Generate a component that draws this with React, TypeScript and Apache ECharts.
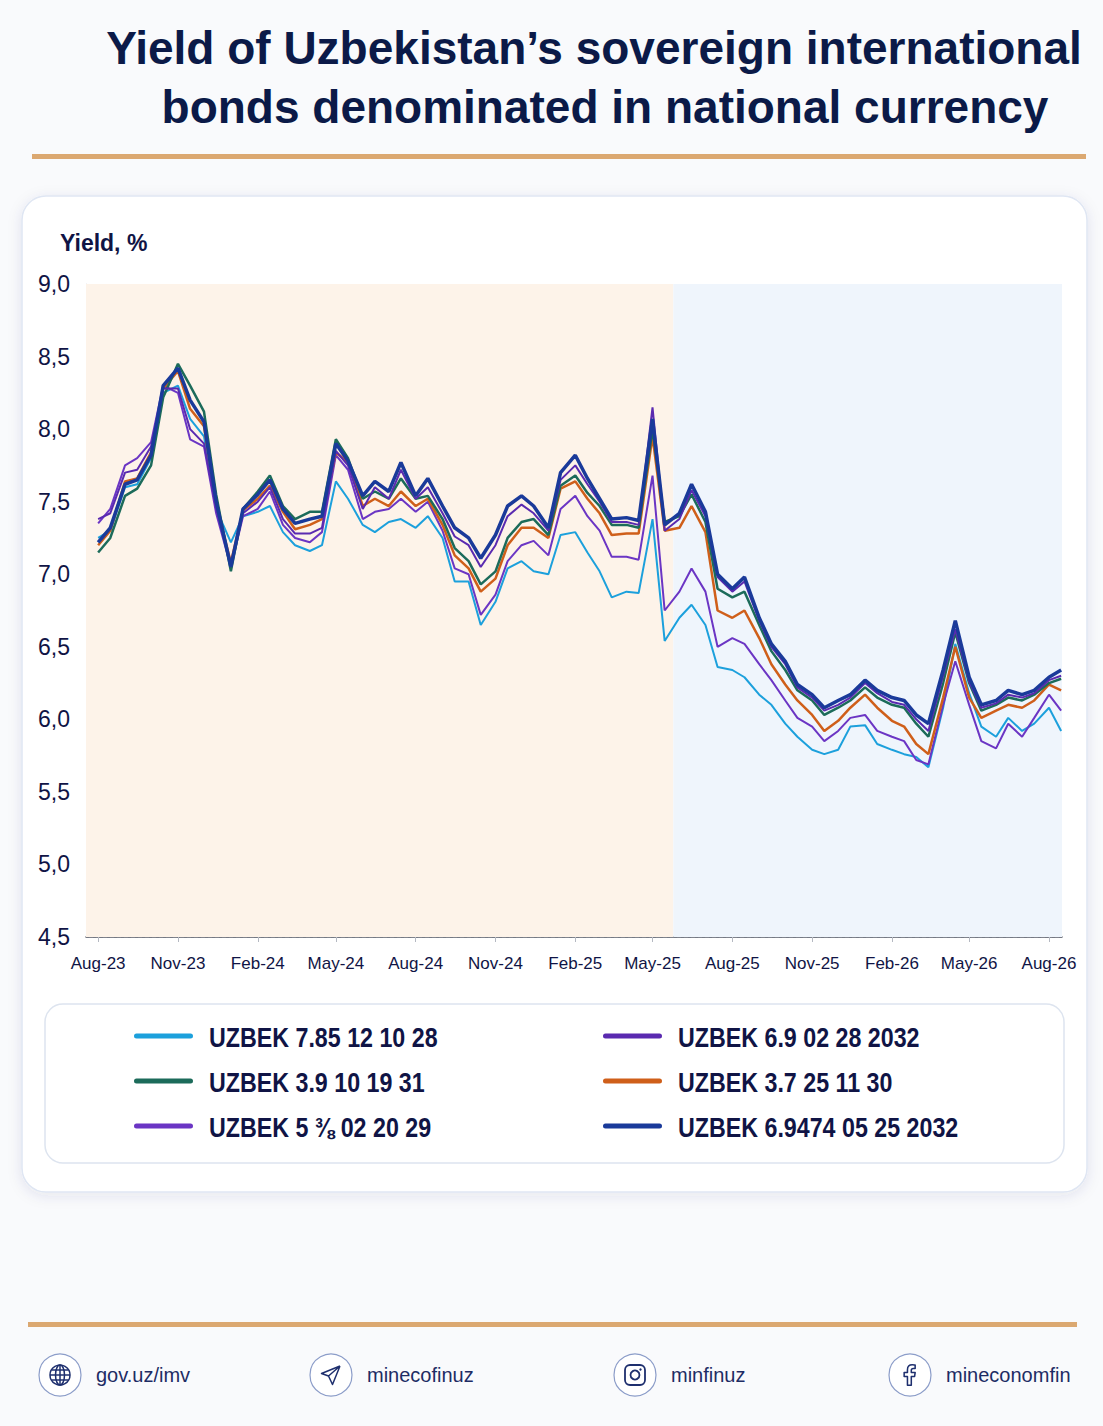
import React, { useEffect, useRef } from 'react';
import * as echarts from 'echarts';

// semi-monthly observations, Aug-23 .. Aug-26 (1st and 15th of each month)
const months = [
  '2023-08', '2023-09', '2023-10', '2023-11', '2023-12',
  '2024-01', '2024-02', '2024-03', '2024-04', '2024-05', '2024-06', '2024-07', '2024-08', '2024-09', '2024-10', '2024-11', '2024-12',
  '2025-01', '2025-02', '2025-03', '2025-04', '2025-05', '2025-06', '2025-07', '2025-08', '2025-09', '2025-10', '2025-11', '2025-12',
  '2026-01', '2026-02', '2026-03', '2026-04', '2026-05', '2026-06', '2026-07', '2026-08',
];
const dates = months.flatMap((m) => [`${m}-01`, `${m}-15`]);

const tickDates = [
  '2023-08-01', '2023-11-01', '2024-02-01', '2024-05-01', '2024-08-01', '2024-11-01', '2025-02-01',
  '2025-05-01', '2025-08-01', '2025-11-01', '2026-02-01', '2026-05-01', '2026-08-01',
];
const tickLabels = [
  'Aug-23', 'Nov-23', 'Feb-24', 'May-24', 'Aug-24', 'Nov-24', 'Feb-25',
  'May-25', 'Aug-25', 'Nov-25', 'Feb-26', 'May-26', 'Aug-26',
];

const uz785_28 = [
  7.25, 7.3, 7.6, 7.62, 7.8, 8.25, 8.3, 8.07, 7.95, 7.45,
  7.22, 7.4, 7.43, 7.47, 7.29, 7.2, 7.16, 7.2, 7.64, 7.52,
  7.34, 7.29, 7.36, 7.38, 7.32, 7.4, 7.25, 6.95, 6.95, 6.65,
  6.81, 7.04, 7.09, 7.02, 7.0, 7.27, 7.29, 7.15, 7.02, 6.84,
  6.88, 6.87, 7.38, 6.54, 6.7, 6.79, 6.65, 6.36, 6.34, 6.29,
  6.17, 6.1, 5.97, 5.88, 5.79, 5.76, 5.79, 5.95, 5.96, 5.83,
  5.79, 5.76, 5.74, 5.67, 6.08, 6.52, 6.18, 5.95, 5.88, 6.01,
  5.92, 5.97, 6.08, 5.92,
];
const uz39_31 = [
  7.15, 7.25, 7.54, 7.59, 7.75, 8.22, 8.45, 8.3, 8.12, 7.55,
  7.02, 7.45, 7.57, 7.68, 7.47, 7.38, 7.43, 7.43, 7.93, 7.8,
  7.52, 7.57, 7.52, 7.66, 7.52, 7.54, 7.38, 7.18, 7.09, 6.93,
  7.02, 7.25, 7.36, 7.38, 7.27, 7.61, 7.68, 7.56, 7.47, 7.34,
  7.34, 7.32, 8.0, 7.36, 7.4, 7.55, 7.36, 6.9, 6.84, 6.88,
  6.65, 6.47, 6.34, 6.2, 6.13, 6.03, 6.08, 6.13, 6.22, 6.15,
  6.1, 6.08, 5.97, 5.88, 6.25, 6.6, 6.25, 6.06, 6.1, 6.15,
  6.13, 6.17, 6.25, 6.28,
];
const uz538_29 = [
  7.35, 7.45, 7.75, 7.8, 7.91, 8.3, 8.25, 7.93, 7.88, 7.42,
  7.05, 7.4, 7.45, 7.57, 7.34, 7.25, 7.22, 7.29, 7.82, 7.72,
  7.38, 7.43, 7.45, 7.52, 7.43, 7.5, 7.3, 7.04, 7.0, 6.72,
  6.86, 7.09, 7.2, 7.23, 7.13, 7.45, 7.54, 7.4, 7.3, 7.12,
  7.12, 7.1, 7.68, 6.75, 6.88, 7.04, 6.88, 6.5, 6.56, 6.52,
  6.38, 6.27, 6.13, 6.01, 5.95, 5.85, 5.92, 6.01, 6.03, 5.92,
  5.88, 5.85, 5.72, 5.69, 6.1, 6.4, 6.1, 5.85, 5.8, 5.97,
  5.88, 6.01, 6.17, 6.06,
];
const uz69_32 = [
  7.38, 7.42, 7.7, 7.72, 7.88, 8.28, 8.28, 8.0, 7.9, 7.45,
  7.07, 7.42, 7.5, 7.6, 7.38, 7.28, 7.28, 7.32, 7.85, 7.75,
  7.45, 7.6, 7.52, 7.72, 7.52, 7.6, 7.42, 7.26, 7.2, 7.05,
  7.2, 7.4, 7.48, 7.42, 7.3, 7.65, 7.75, 7.62, 7.5, 7.36,
  7.36, 7.34, 8.15, 7.3, 7.38, 7.58, 7.4, 6.98, 6.88, 6.95,
  6.68, 6.5, 6.38, 6.22, 6.15, 6.06, 6.1, 6.15, 6.25, 6.18,
  6.12, 6.1, 6.0, 5.92, 6.3, 6.62, 6.26, 6.08, 6.11, 6.17,
  6.15, 6.18, 6.27, 6.3,
];
const uz37_30 = [
  7.2, 7.3, 7.64, 7.66, 7.84, 8.28, 8.4, 8.14, 8.02, 7.48,
  7.08, 7.44, 7.52, 7.61, 7.43, 7.31, 7.34, 7.38, 7.84, 7.77,
  7.47, 7.52, 7.47, 7.57, 7.47, 7.52, 7.34, 7.13, 7.04, 6.88,
  6.97, 7.2, 7.32, 7.32, 7.25, 7.59, 7.64, 7.52, 7.42, 7.27,
  7.28, 7.28, 7.95, 7.3, 7.32, 7.47, 7.29, 6.75, 6.7, 6.75,
  6.56, 6.38, 6.24, 6.13, 6.03, 5.92, 5.99, 6.08, 6.17, 6.08,
  5.99, 5.95, 5.83, 5.76, 6.15, 6.5, 6.15, 6.01, 6.06, 6.1,
  6.08, 6.13, 6.24, 6.2,
];
const uz69474_32 = [
  7.22, 7.32, 7.62, 7.65, 7.82, 8.3, 8.42, 8.2, 8.05, 7.5,
  7.05, 7.45, 7.55, 7.65, 7.45, 7.35, 7.38, 7.4, 7.9, 7.78,
  7.54, 7.64, 7.57, 7.77, 7.54, 7.66, 7.47, 7.32, 7.25, 7.11,
  7.27, 7.47, 7.54, 7.47, 7.32, 7.7, 7.82, 7.66, 7.52, 7.38,
  7.39, 7.37, 8.07, 7.34, 7.42, 7.62, 7.43, 7.0, 6.9, 6.98,
  6.7, 6.52, 6.4, 6.24, 6.17, 6.08, 6.13, 6.17, 6.27, 6.2,
  6.15, 6.13, 6.03, 5.97, 6.34, 6.68, 6.29, 6.1, 6.13, 6.2,
  6.17, 6.2, 6.29, 6.34,
];

const NAVY = '#101445';
const GOLD = '#dba871';

// day number (UTC) of a 'yyyy-MM-dd' string, used as the x value
const day = (s: string) => {
  const [y, m, d] = s.split('-').map(Number);
  return Date.UTC(y, m - 1, d) / 86400000;
};

const facebookPath =
  'M13 22v-8h3l.5-3.5H13V8.5c0-1 .3-1.7 1.8-1.7h1.7V3.7c-.3 0-1.4-.2-2.6-.2-2.6 0-4.4 1.6-4.4 4.5v2.5H6.5V14h3v8z';
const planePath = 'M21 3L2.5 10.5l7 2.5M21 3l-7.5 18.5-4-8.5M21 3L9.5 13';
echarts.graphic.registerShape('fbIcon', echarts.graphic.extendPath(facebookPath, {}));
echarts.graphic.registerShape('planeIcon', echarts.graphic.extendPath(planePath, {}));

export default function App() {
  const chartRef = useRef<HTMLDivElement>(null);

  useEffect(() => {
    if (!chartRef.current) return;
    document.body.style.margin = '0';
    const chart = echarts.init(chartRef.current, null, { renderer: 'svg' });

    // drawing order (navy on top)
    const seriesDefs = [
      { name: 'UZBEK 7.85 12 10 28', data: uz785_28, color: '#1ca0dc', width: 2 },
      { name: 'UZBEK 5 ⅜ 02 20 29', data: uz538_29, color: '#6b35c4', width: 2 },
      { name: 'UZBEK 3.7 25 11 30', data: uz37_30, color: '#cf5f1a', width: 2.5 },
      { name: 'UZBEK 3.9 10 19 31', data: uz39_31, color: '#1c6b5a', width: 2.5 },
      { name: 'UZBEK 6.9 02 28 2032', data: uz69_32, color: '#5a2ab0', width: 2 },
      { name: 'UZBEK 6.9474 05 25 2032', data: uz69474_32, color: '#1a3a9a', width: 3.5 },
    ];
    const colorOf = (n: string) => seriesDefs.find((s) => s.name === n)!.color;

    // legend layout: two columns of three
    const legendCols = [
      { x: 134, names: ['UZBEK 7.85 12 10 28', 'UZBEK 3.9 10 19 31', 'UZBEK 5 ⅜ 02 20 29'] },
      { x: 603, names: ['UZBEK 6.9 02 28 2032', 'UZBEK 3.7 25 11 30', 'UZBEK 6.9474 05 25 2032'] },
    ];

    const tickDays = tickDates.map(day);
    const xMin = day('2023-07-18');
    const xMax = day('2026-08-16');
    const split = day('2025-05-25');

    const iconColor = '#1e2f6e';
    const footerItems = [
      { cx: 60, text: 'gov.uz/imv' },
      { cx: 331, text: 'minecofinuz' },
      { cx: 635, text: 'minfinuz' },
      { cx: 910, text: 'mineconomfin' },
    ];

    const graphics: any[] = [
      { type: 'rect', z: -20, shape: { x: 0, y: 0, width: 1103, height: 1426 }, style: { fill: '#f9fafc' } },
      {
        type: 'text', x: 594, y: 48,
        style: { text: 'Yield of Uzbekistan’s sovereign international', fill: '#0b1a48', fontSize: 46, fontWeight: 'bold', fontFamily: 'Liberation Sans', align: 'center', verticalAlign: 'middle' },
      },
      {
        type: 'text', x: 605, y: 107,
        style: { text: 'bonds denominated in national currency', fill: '#0b1a48', fontSize: 46, fontWeight: 'bold', fontFamily: 'Liberation Sans', align: 'center', verticalAlign: 'middle' },
      },
      { type: 'rect', shape: { x: 32, y: 154, width: 1054, height: 5 }, style: { fill: GOLD } },
      {
        type: 'rect', z: -10,
        shape: { x: 22, y: 196, width: 1065, height: 996, r: 24 },
        style: { fill: '#ffffff', stroke: '#dfe6f3', lineWidth: 1.5, shadowBlur: 14, shadowColor: 'rgba(40,60,110,0.10)', shadowOffsetY: 3 },
      },
      {
        type: 'text', x: 60, y: 243,
        style: { text: 'Yield, %', fill: NAVY, fontSize: 23, fontWeight: 'bold', fontFamily: 'Liberation Sans', verticalAlign: 'middle' },
      },
      {
        type: 'rect', z: -5,
        shape: { x: 45, y: 1004, width: 1019, height: 159, r: 18 },
        style: { fill: '#ffffff', stroke: '#dde4ef', lineWidth: 1.5 },
      },
      { type: 'rect', shape: { x: 28, y: 1322, width: 1049, height: 5 }, style: { fill: GOLD } },
    ];

    legendCols.forEach((col) => {
      col.names.forEach((name, row) => {
        const cy = 1036 + row * 45;
        graphics.push({
          type: 'rect', shape: { x: col.x, y: cy - 2.5, width: 59, height: 5, r: 2.5 },
          style: { fill: colorOf(name) },
        });
        graphics.push({
          type: 'text', x: col.x + 75, y: cy + 1, scaleX: 0.83,
          style: { text: name, fill: NAVY, fontSize: 28, fontWeight: 'bold', fontFamily: 'Liberation Sans', verticalAlign: 'middle' },
        });
      });
    });

    footerItems.forEach(({ cx, text }) => {
      graphics.push({
        type: 'circle', shape: { cx, cy: 1375, r: 21 },
        style: { fill: '#ffffff', stroke: '#8c9dc9', lineWidth: 1.2 },
      });
      graphics.push({
        type: 'text', x: cx + 36, y: 1375,
        style: { text, fill: '#1e2c64', fontSize: 20, fontFamily: 'Liberation Sans', verticalAlign: 'middle' },
      });
    });

    const gx = footerItems[0].cx;
    const gy = 1375;
    const lineStyle = { stroke: iconColor, lineWidth: 1.5, fill: 'none' };
    graphics.push(
      { type: 'circle', shape: { cx: gx, cy: gy, r: 10 }, style: lineStyle },
      { type: 'ellipse', shape: { cx: gx, cy: gy, rx: 4.5, ry: 10 }, style: lineStyle },
      { type: 'line', shape: { x1: gx, y1: gy - 10, x2: gx, y2: gy + 10 }, style: lineStyle },
      { type: 'line', shape: { x1: gx - 10, y1: gy, x2: gx + 10, y2: gy }, style: lineStyle },
      { type: 'line', shape: { x1: gx - 8.5, y1: gy - 5, x2: gx + 8.5, y2: gy - 5 }, style: lineStyle },
      { type: 'line', shape: { x1: gx - 8.5, y1: gy + 5, x2: gx + 8.5, y2: gy + 5 }, style: lineStyle },
    );
    graphics.push({
      type: 'planeIcon', x: footerItems[1].cx - 12, y: 1375 - 12, scaleX: 1, scaleY: 1,
      style: { stroke: iconColor, lineWidth: 1.5, fill: 'none', lineJoin: 'round' },
    });
    const ix = footerItems[2].cx;
    graphics.push(
      { type: 'rect', shape: { x: ix - 10, y: 1375 - 10, width: 20, height: 20, r: 5 }, style: { ...lineStyle, lineWidth: 1.8 } },
      { type: 'circle', shape: { cx: ix, cy: 1375, r: 4.5 }, style: { ...lineStyle, lineWidth: 1.8 } },
      { type: 'circle', shape: { cx: ix + 5.5, cy: 1375 - 5.5, r: 1.2 }, style: { fill: iconColor } },
    );
    graphics.push({
      type: 'fbIcon', x: footerItems[3].cx - 13, y: 1375 - 14, scaleX: 1.1, scaleY: 1.1,
      style: { stroke: iconColor, lineWidth: 1.4, fill: 'none', lineJoin: 'round' },
    });

    const option: any = {
      animation: false,
      graphic: graphics,
      grid: { left: 86, right: 41, top: 284, bottom: 489, containLabel: false },
      xAxis: {
        type: 'value',
        min: xMin,
        max: xMax,
        axisLine: { onZero: false, lineStyle: { color: '#555a66', width: 1.5 } },
        axisTick: { show: true, customValues: tickDays, length: 5, lineStyle: { color: '#b5b9c2' } },
        axisLabel: {
          customValues: tickDays,
          formatter: (v: number) => {
            const i = tickDays.indexOf(v);
            return i >= 0 ? tickLabels[i] : '';
          },
          fontSize: 17,
          color: NAVY,
          fontFamily: 'Liberation Sans',
          margin: 18,
        },
        splitLine: { show: false },
      },
      yAxis: {
        type: 'value',
        min: 4.5,
        max: 9,
        interval: 0.5,
        axisLine: { show: true, lineStyle: { color: '#dfe2e8' } },
        axisTick: { show: false },
        axisLabel: {
          formatter: (v: number) => v.toFixed(1).replace('.', ','),
          fontSize: 23,
          color: NAVY,
          fontFamily: 'Liberation Sans',
          margin: 16,
        },
        splitLine: { lineStyle: { color: '#d3d7de', type: [3, 4], width: 1 } },
      },
      series: [
        {
          type: 'line',
          name: 'period shading',
          data: [],
          z: 1,
          silent: true,
          markArea: {
            silent: true,
            data: [
              [{ xAxis: xMin, itemStyle: { color: '#fdf3e9' } }, { xAxis: split }],
              [{ xAxis: split, itemStyle: { color: '#eff5fc' } }, { xAxis: xMax }],
            ],
          },
        },
        ...seriesDefs.map((s) => ({
          type: 'line',
          name: s.name,
          data: dates.map((d, i) => [day(d), s.data[i]]),
          showSymbol: false,
          color: s.color,
          lineStyle: { color: s.color, width: s.width },
          z: 3,
        })),
      ],
    };

    chart.setOption(option);

    return () => {
      chart.dispose();
    };
  }, []);

  return <div ref={chartRef} style={{ width: 1103, height: 1426 }} />;
}
